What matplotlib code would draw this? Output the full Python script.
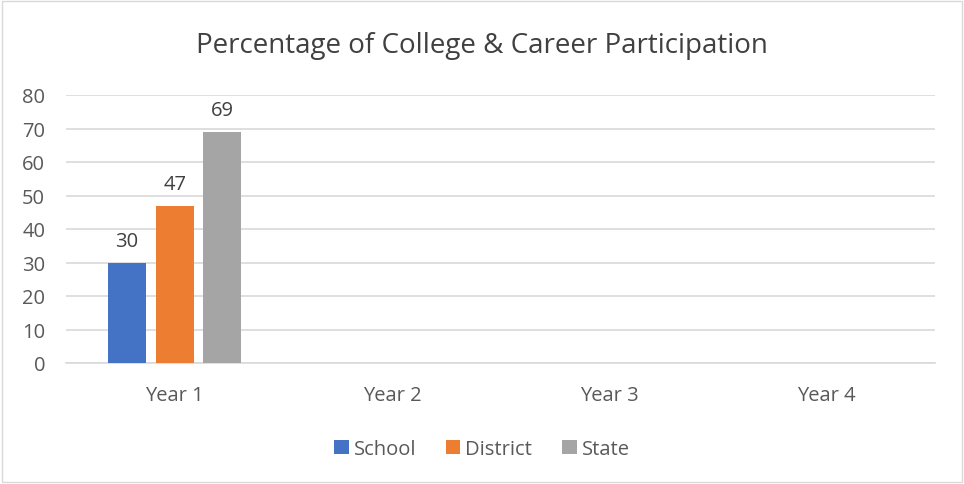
import matplotlib.pyplot as plt
import numpy as np
from matplotlib.patches import Rectangle

categories = ['Year 1', 'Year 2', 'Year 3', 'Year 4']
school = [30, 0, 0, 0]
district = [47, 0, 0, 0]
state = [69, 0, 0, 0]
series_names = ['School', 'District', 'State']
colors = ['#4472C4', '#ED7D31', '#A5A5A5']
yticks = [0, 10, 20, 30, 40, 50, 60, 70, 80]

plt.rcParams['font.family'] = ['Open Sans', 'DejaVu Sans']
text_color = '#595959'

fig = plt.figure(figsize=(9.64, 4.85), dpi=100)
ax = fig.add_axes([66 / 964, 1 - 364 / 485, (935 - 66) / 964, (364 - 96) / 485])

x = np.arange(len(categories))
width = 0.175
step = 0.22
for i, (vals, name, c) in enumerate(zip([school, district, state], series_names, colors)):
    pos = x + (i - 1) * step
    bars = ax.bar(pos, vals, width, color=c, label=name, zorder=3)
    for b, v in zip(bars, vals):
        if v > 0:
            ax.annotate(str(v), (b.get_x() + b.get_width() / 2, v), xytext=(0, 12),
                        textcoords='offset points', ha='center', va='baseline',
                        fontsize=14.5, color='#404040')

ax.set_xlim(-0.5, len(categories) - 0.5)
ax.set_ylim(0, 80)
ax.set_yticks(yticks)
ax.set_xticks(x)
ax.set_xticklabels(categories)
ax.yaxis.grid(True, color='#d9d9d9', linewidth=1.2, zorder=0)
ax.set_axisbelow(True)
for side in ['top', 'right', 'left']:
    ax.spines[side].set_visible(False)
ax.spines['bottom'].set_color('#d9d9d9')
ax.spines['bottom'].set_linewidth(1.2)
ax.tick_params(axis='both', length=0, labelsize=14.5, colors=text_color)
ax.tick_params(axis='x', pad=16)
ax.tick_params(axis='y', pad=15)

fig.text(0.5, 1 - 46 / 485, 'Percentage of College & Career Participation', ha='center', va='center',
         fontsize=20, color='#404040')

fig.legend(loc='center', bbox_to_anchor=(0.5, 1 - 450 / 485), ncol=3, frameon=False,
           fontsize=14.5, labelcolor=text_color, handlelength=0.7, handleheight=0.7,
           handletextpad=0.25, columnspacing=1.5)

fig.patches.append(Rectangle((2 / 964, 2 / 485), 1 - 4 / 964, 1 - 4 / 485, transform=fig.transFigure,
                             fill=False, edgecolor='#d9d9d9', linewidth=1))

plt.savefig('out.png', dpi=100)
